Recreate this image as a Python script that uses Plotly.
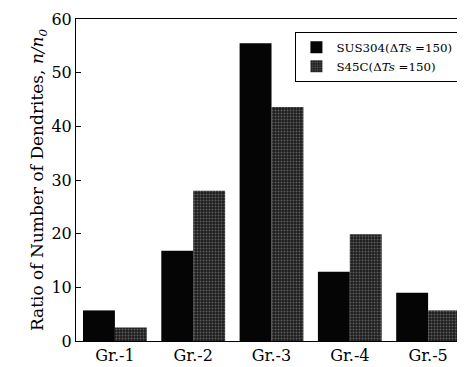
import plotly.graph_objects as go

categories = ["Gr.-1", "Gr.-2", "Gr.-3", "Gr.-4", "Gr.-5"]
sus304 = [5.7, 16.8, 55.5, 12.9, 9.0]
s45c = [2.5, 28.0, 43.6, 19.9, 5.7]
series_names = ["SUS304(Δ<i>Ts</i> =150)", "S45C(Δ<i>Ts</i> =150)"]
y_ticks = [0, 10, 20, 30, 40, 50, 60]

# page body has an 8px margin, so the figure is drawn from (8, 8)
OFF = 8
W, H = 465 - OFF, 367 - OFF
ml, mr, mt, mb = 76 - OFF, 2, 16 - OFF, 25
pw, ph = W - ml - mr, H - mt - mb

def px(x):
    return (x - OFF - ml) / pw

def py(y):
    return (H - mb - (y - OFF)) / ph

fig = go.Figure()
fig.add_trace(go.Bar(
    x=categories, y=sus304, name=series_names[0],
    marker=dict(color="#050505", line=dict(width=0)),
))
fig.add_trace(go.Bar(
    x=categories, y=s45c, name=series_names[1],
    marker=dict(color="#2a2a2a", line=dict(width=0),
                pattern=dict(shape=".", bgcolor="#1c1c1c", fgcolor="#a0a0a0",
                             size=3, solidity=0.35)),
))

serif = "DejaVu Serif"
fig.update_layout(
    width=W, height=H,
    margin=dict(l=ml, r=mr, t=mt, b=mb),
    paper_bgcolor="white", plot_bgcolor="white",
    barmode="group", bargap=0.185, bargroupgap=0,
    font=dict(family=serif, color="black", size=15),
    showlegend=True,
    legend=dict(x=px(296), y=py(29), xanchor="left", yanchor="top",
                bgcolor="white", bordercolor="black", borderwidth=1,
                font=dict(family=serif, size=11.8, color="black"),
                tracegroupgap=0, itemwidth=30),
    xaxis=dict(showline=True, linecolor="black", linewidth=1, mirror=True,
               range=[-0.497, 4.433],
               ticks="", tickfont=dict(family=serif, size=16), showgrid=False,
               ticklabeloverflow="allow"),
    yaxis=dict(range=[0, 60], tickvals=y_ticks, showline=True, linecolor="black",
               linewidth=1, mirror="ticks", ticks="inside", ticklen=5,
               tickcolor="black", showgrid=False, zeroline=False,
               ticklabeloverflow="allow",
               tickfont=dict(family=serif, size=16),
               title=dict(text="Ratio of Number of Dendrites, <i>n/n</i><sub><i>0</i></sub>",
                          font=dict(family=serif, size=17), standoff=3)),
)
# legend drop shadow
fig.add_shape(type="rect", xref="paper", yref="paper",
              x0=px(299), x1=px(460), y0=py(77), y1=py(32),
              fillcolor="black", line=dict(width=0), layer="above")

fig.write_html("out.html")
